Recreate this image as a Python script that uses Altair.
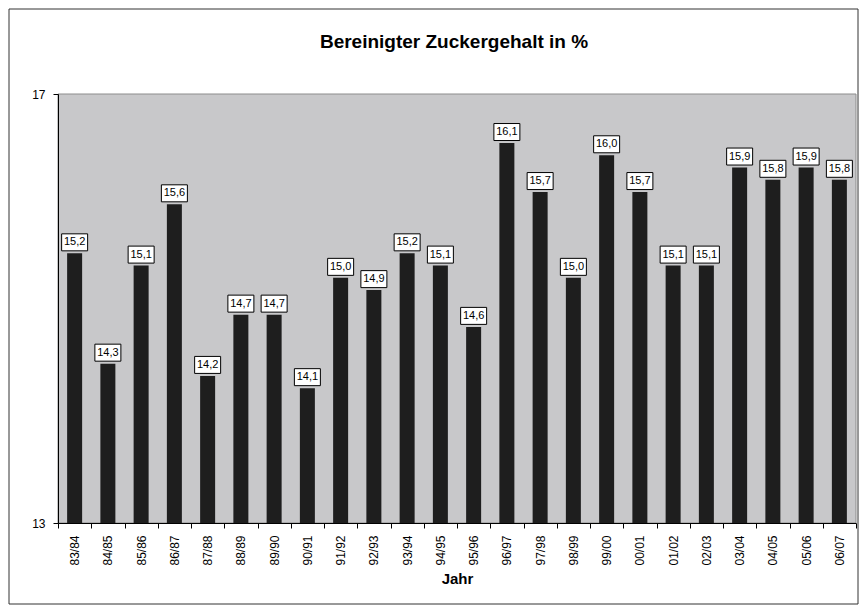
import altair as alt
import pandas as pd

years = ["83/84", "84/85", "85/86", "86/87", "87/88", "88/89", "89/90", "90/91",
         "91/92", "92/93", "93/94", "94/95", "95/96", "96/97", "97/98", "98/99",
         "99/00", "00/01", "01/02", "02/03", "03/04", "04/05", "05/06", "06/07"]
values = [15.2, 14.3, 15.1, 15.6, 14.2, 14.7, 14.7, 14.1,
          15.0, 14.9, 15.2, 15.1, 14.6, 16.1, 15.7, 15.0,
          16.0, 15.7, 15.1, 15.1, 15.9, 15.8, 15.9, 15.8]
y_domain = [13, 16.5]
y_ticks = [13, 16.5]
chart_title = "Bereinigter Zuckergehalt in %"

df = pd.DataFrame({"Jahr": years, "Wert": values})
df["Label"] = [f"{v:.1f}".replace(".", ",") for v in values]

FONT = "Liberation Sans"

x_enc = alt.X(
    "Jahr:N", sort=years, title="Jahr",
    scale=alt.Scale(paddingInner=0, paddingOuter=0),
    axis=alt.Axis(labelAngle=-90, tickBand="extent", tickSize=5, labelPadding=7,
                  domainColor="black", tickColor="black", labelColor="black",
                  labelFont=FONT, labelFontSize=12, titleFont=FONT, titleFontSize=15,
                  titleFontWeight="bold", titleColor="black", titlePadding=6, zindex=1),
)
y_enc = alt.Y(
    "Wert:Q", title=None,
    scale=alt.Scale(domain=y_domain, nice=False, zero=False),
    axis=alt.Axis(values=y_ticks, format="d", tickSize=5, labelPadding=8, grid=False,
                  domainColor="black", tickColor="black", labelColor="black",
                  labelFont=FONT, labelFontSize=12, zindex=1),
)

base = alt.Chart(df)
one = pd.DataFrame({"a": [0]})

frame = alt.Chart(one).mark_rect(
    fill="white", stroke="#333333", strokeWidth=1
).encode(x=alt.value(-49), x2=alt.value(800), y=alt.value(-85), y2=alt.value(510))

plotbg = alt.Chart(one).mark_rect(
    fill="#C8C8CA", stroke="#8C8C8C", strokeWidth=1
).encode(x=alt.value(0), x2=alt.value(798), y=alt.value(0), y2=alt.value(429))

title_text = alt.Chart(one).mark_text(
    font=FONT, fontSize=19, fontWeight="bold", color="black", align="center", baseline="middle"
).encode(x=alt.value(396), y=alt.value(-52), text=alt.value(chart_title))

bars = base.mark_bar(size=15, color="#1E1E1E", clip=True).encode(x=x_enc, y=y_enc)

boxes = base.mark_point(
    shape="M-1.3,-0.85H1.3V0.85H-1.3Z", size=400, filled=True, fill="white",
    stroke="black", strokeWidth=1, opacity=1, yOffset=-11
).encode(x=x_enc, y=y_enc)

labels = base.mark_text(
    font=FONT, fontSize=11, color="black", baseline="middle", yOffset=-11
).encode(x=x_enc, y=y_enc, text="Label:N")

chart = alt.layer(frame, plotbg, title_text, bars, boxes, labels).properties(
    width=798, height=429,
    padding={"left": 50, "top": 86, "right": 3, "bottom": 83},
    autosize="none",
).configure_view(stroke=None).configure(background="white")

chart.save("out.html", embed_options={"renderer": "svg", "actions": False})
